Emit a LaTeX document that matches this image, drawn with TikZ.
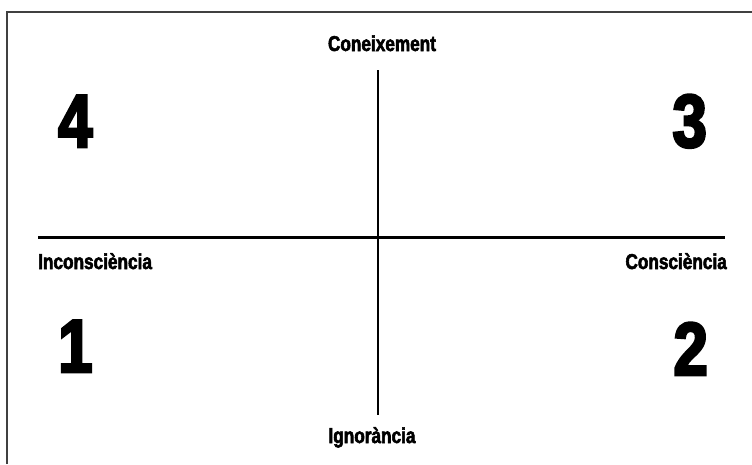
\documentclass[tikz,border=0pt]{standalone}
\usepackage{fontspec}
\newfontfamily\condfont[FakeStretch=0.8,FakeBold=2.5]{Liberation Sans Bold}
\newfontfamily\numfont[FakeStretch=0.82,FakeBold=3.5]{Liberation Sans Bold}
\usepackage{tikz}
\usetikzlibrary{positioning}

\begin{document}
\begin{tikzpicture}[
  x=1pt, y=-1pt,
  frame/.style={line width=2pt, black!75},
  axis/.style={line width=3pt},
  vaxis/.style={line width=1.5pt},
  axlabel/.style={inner sep=0pt, font=\condfont\fontsize{21.5}{22}\selectfont},
  quadrant/.style={inner sep=0pt, font=\numfont\fontsize{75}{75}\selectfont}
]
\useasboundingbox (0,0) rectangle (752,464);
% frame (only top and left sides are visible)
\coordinate (frameBL) at (7,464);
\coordinate (frameTL) at (7,12);
\coordinate (frameTR) at (752,12);
\draw[frame] (frameBL) -- (frameTL) -- (frameTR);
% axes
\coordinate (west) at (38,237);
\coordinate (east) at (725,237);
\coordinate (north) at (378,70);
\coordinate (south) at (378,415);
\draw[axis] (west) -- (east);
\draw[vaxis] (north) -- (south);
% axis labels
\node[axlabel, anchor=base] (know) at (382,51) {Coneixement};
\node[axlabel, anchor=base] (ignor) at (372,443) {Ignorància};
\node[axlabel, anchor=base west] (uncons) at (38,269) {Inconsciència};
\node[axlabel, anchor=base east] (cons) at (727,269) {Consciència};
% quadrant numbers
\node[quadrant, anchor=base west] (q4) at (58,147) {4};
\node[quadrant, anchor=base east] (q3) at (707,147) {3};
\node[quadrant, anchor=base west] (q1) at (58,372) {1};
\node[quadrant, anchor=base east] (q2) at (708,375) {2};
\end{tikzpicture}
\end{document}
